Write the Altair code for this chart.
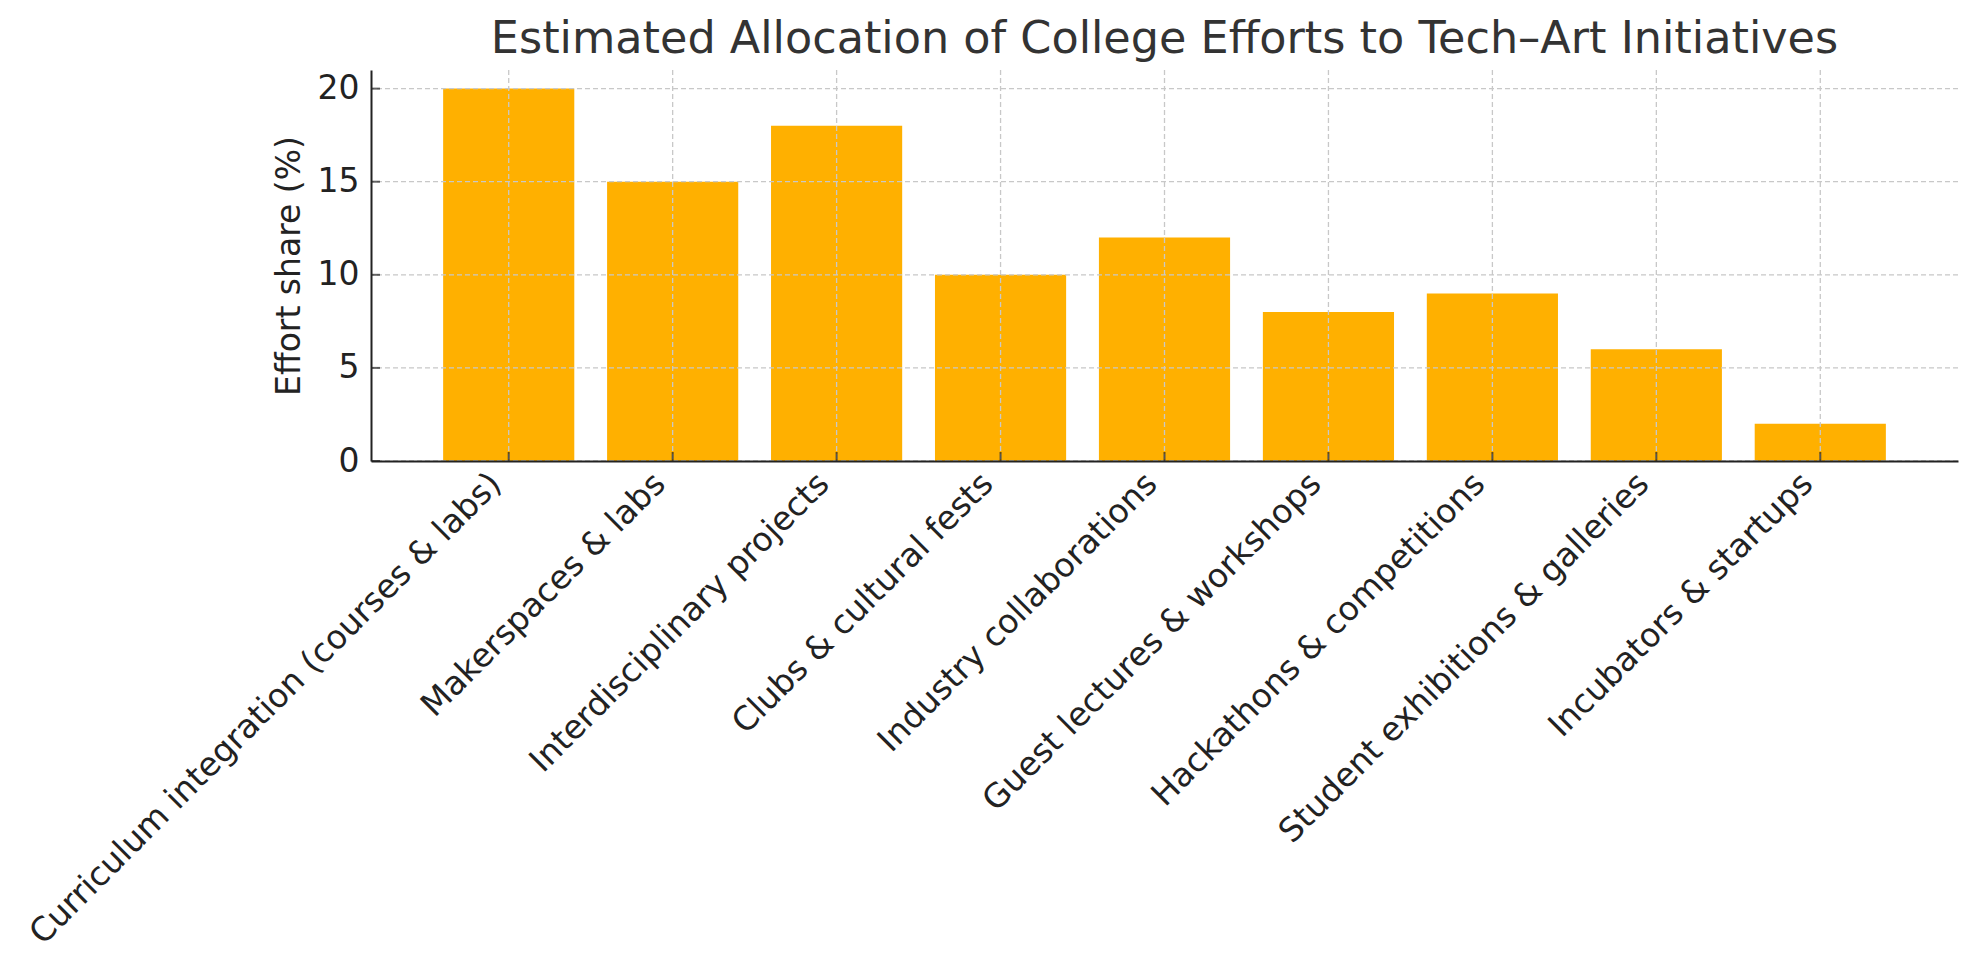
import altair as alt
import pandas as pd

categories = [
    "Curriculum integration (courses & labs)",
    "Makerspaces & labs",
    "Interdisciplinary projects",
    "Clubs & cultural fests",
    "Industry collaborations",
    "Guest lectures & workshops",
    "Hackathons & competitions",
    "Student exhibitions & galleries",
    "Incubators & startups",
]
shares = [20, 15, 18, 10, 12, 8, 9, 6, 2]
y_ticks = [0, 5, 10, 15, 20]

df = pd.DataFrame({"cat": categories, "share": shares})
tick_df = pd.DataFrame({"v": y_ticks})

FONT = "DejaVu Sans"
INK = "#222222"
GRID = "#c8c8c8"

xscale = alt.Scale(domain=categories, paddingInner=0.2, paddingOuter=0.44)
yscale = alt.Scale(domain=[0, 21], nice=False, zero=True)

X_AXIS = alt.Axis(
    labelAngle=-45,
    labelAlign="right",
    labelBaseline="top",
    labelPadding=6,
    labelOffset=-24,
    labelFontSize=33,
    labelColor=INK,
    labelLimit=0,
    ticks=False,
    grid=False,
    domainColor=INK,
    domainWidth=2,
    bandPosition=0.5,
    zindex=1,
)
Y_AXIS = alt.Axis(
    values=y_ticks,
    titleFontSize=33,
    titleFontWeight="normal",
    titleColor=INK,
    titlePadding=11,
    labelFontSize=33,
    labelColor=INK,
    labelPadding=12,
    ticks=False,
    grid=False,
    domainColor=INK,
    domainWidth=2,
    zindex=1,
)

bars = alt.Chart(df).mark_bar(color="#FFB000").encode(
    x=alt.X("cat:N", sort=categories, scale=xscale, title=None, axis=X_AXIS),
    y=alt.Y("share:Q", scale=yscale, title="Effort share (%)", axis=Y_AXIS),
)

vgrid = alt.Chart(df).mark_rule(
    color=GRID, strokeWidth=1.3, strokeDash=[5, 3]
).encode(
    x=alt.X("cat:N", sort=categories, scale=xscale, title=None),
)

hgrid = alt.Chart(tick_df).mark_rule(
    color=GRID, strokeWidth=1.3, strokeDash=[5, 3]
).encode(
    y=alt.Y("v:Q", scale=yscale, title="Effort share (%)"),
)

xticks = alt.Chart(df).mark_tick(
    orient="vertical", size=18, thickness=2, color=INK, clip=True
).encode(
    x=alt.X("cat:N", sort=categories, scale=xscale, title=None),
    y=alt.datum(0),
)

yticks = alt.Chart(tick_df).mark_tick(
    orient="horizontal", size=18, thickness=2, color=INK, clip=True
).encode(
    y=alt.Y("v:Q", scale=yscale, title="Effort share (%)"),
    x=alt.value(0),
)

chart = (
    alt.layer(bars, vgrid, hgrid, xticks, yticks)
    .properties(
        width=1587,
        height=391,
        autosize=alt.AutoSizeParams(type="none"),
        padding={"left": 363, "top": 62, "right": 5, "bottom": 500},
        title=alt.TitleParams(
            "Estimated Allocation of College Efforts to Tech\u2013Art Initiatives",
            fontSize=44.5,
            fontWeight="normal",
            color="#333333",
            font=FONT,
            anchor="middle",
            offset=7,
        ),
    )
    .configure(font=FONT)
    .configure_view(strokeWidth=0)
)

chart.save("out.html", embed_options={"renderer": "svg", "actions": False})
